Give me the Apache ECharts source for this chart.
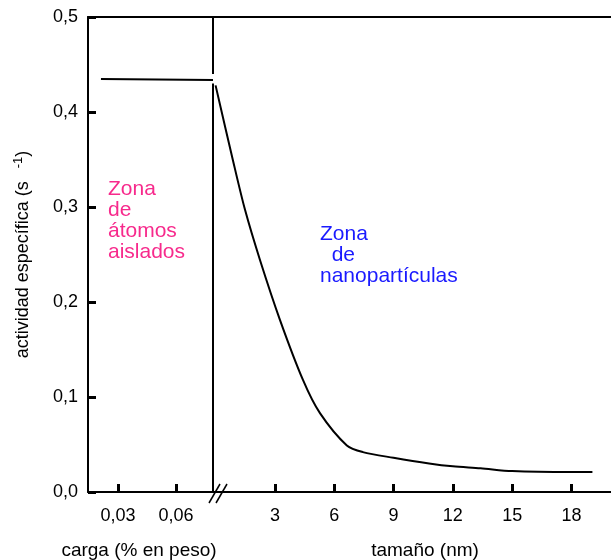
<!DOCTYPE html>
<html>
<head>
<meta charset="utf-8">
<script src="https://cdn.jsdelivr.net/npm/echarts@6/dist/echarts.min.js"></script>
<style>
  html, body { margin: 0; padding: 0; background: #fff; }
  #chart { width: 611px; height: 560px; }
</style>
</head>
<body>
<div id="chart"></div>
<script>
// left part: metal loading (% wt)
var loadX = [0.0212, 0.0791];
var loadY = [0.4347, 0.4337];
var loadTicks = [0.03, 0.06];

// right part: particle size (nm)
var sizeX = [0, 0.88, 1.49, 2.25, 3.26, 4.42, 5.28, 6.64, 7.45, 9.0, 10.8, 12.0, 13.4, 15.0, 18.0, 19.06];
var sizeY = [0.428, 0.349, 0.297, 0.244, 0.181, 0.118, 0.083, 0.049, 0.042, 0.036, 0.030, 0.027, 0.025, 0.022, 0.021, 0.021];
var sizeTicks = [3, 6, 9, 12, 15, 18];

var loadMin = 0.0145, loadMax = 0.0791;
var sizeMin = -0.13, sizeMax = 20;

var font = 'Liberation Sans, Arial, Helvetica, sans-serif';
var black = '#000';

function pairs(xs, ys) {
    var out = [];
    for (var i = 0; i < xs.length; i++) out.push([xs[i], ys[i]]);
    return out;
}
function comma(v, d) {
    return v.toFixed(d).replace('.', ',');
}

var chart = echarts.init(document.getElementById('chart'));

var lineAxis = { show: true, lineStyle: { color: black, width: 2 } };
var tickStyle = { inside: true, length: 8, lineStyle: { color: black, width: 3 } };

var option = {
    animation: false,
    textStyle: { fontFamily: font },
    grid: [
        { left: 88, top: 17, width: 125, height: 475, outerBoundsMode: 'none', containLabel: false },
        { left: 213, top: 17, right: 0, height: 475, outerBoundsMode: 'none', containLabel: false }
    ],
    xAxis: [
        {
            type: 'value', gridIndex: 0, min: loadMin, max: loadMax,
            axisLine: lineAxis,
            axisTick: Object.assign({ customValues: loadTicks }, tickStyle),
            axisLabel: {
                customValues: loadTicks, margin: 15, fontSize: 18, color: black, fontFamily: font,
                formatter: function (v) { return comma(v, 2); }
            },
            splitLine: { show: false },
            name: 'carga (% en peso)', nameLocation: 'middle', nameGap: 49,
            nameTextStyle: { fontSize: 19, color: black, fontFamily: font, padding: [0, 23, 0, 0] }
        },
        {
            type: 'value', gridIndex: 1, min: sizeMin, max: sizeMax,
            axisLine: lineAxis,
            axisTick: Object.assign({ customValues: sizeTicks }, tickStyle),
            axisLabel: {
                customValues: sizeTicks, margin: 15, fontSize: 18, color: black, fontFamily: font
            },
            splitLine: { show: false },
            name: 'tamaño (nm)', nameLocation: 'middle', nameGap: 49,
            nameTextStyle: { fontSize: 19, color: black, fontFamily: font, padding: [0, 0, 0, 26] }
        },
        {
            type: 'value', gridIndex: 0, position: 'top', min: loadMin, max: loadMax,
            axisLine: lineAxis, axisTick: { show: false }, axisLabel: { show: false }, splitLine: { show: false }
        },
        {
            type: 'value', gridIndex: 1, position: 'top', min: sizeMin, max: sizeMax,
            axisLine: lineAxis, axisTick: { show: false }, axisLabel: { show: false }, splitLine: { show: false }
        }
    ],
    yAxis: [
        {
            type: 'value', gridIndex: 0, min: 0, max: 0.5, interval: 0.1,
            axisLine: lineAxis,
            axisTick: tickStyle,
            axisLabel: {
                margin: 10, fontSize: 18, color: black, fontFamily: font,
                formatter: function (v) { return comma(v, 1); }
            },
            splitLine: { show: false },
            name: 'actividad específica (s {sup|-1})', nameLocation: 'middle', nameGap: 54,
            nameTextStyle: {
                fontSize: 18, color: black, fontFamily: font,
                rich: { sup: { fontSize: 13, fontFamily: font, color: black, verticalAlign: 'top', padding: [0, 0, 9, 8] } }
            }
        },
        {
            type: 'value', gridIndex: 1, min: 0, max: 0.5, show: false
        }
    ],
    series: [
        {
            type: 'line', xAxisIndex: 0, yAxisIndex: 0,
            data: pairs(loadX, loadY),
            symbol: 'none', lineStyle: { color: black, width: 2 }
        },
        {
            // broken vertical at the axis break
            type: 'line', xAxisIndex: 0, yAxisIndex: 0, clip: false,
            data: [[loadMax, 0.5], [loadMax, 0.44], [loadMax, '-'], [loadMax, 0.43], [loadMax, 0]],
            symbol: 'none', connectNulls: false, lineStyle: { color: black, width: 2 }
        },
        {
            type: 'line', xAxisIndex: 1, yAxisIndex: 1,
            data: pairs(sizeX, sizeY),
            smooth: 0.3,
            symbol: 'none', lineStyle: { color: black, width: 2 }
        }
    ],
    graphic: [
        { type: 'line', shape: { x1: 209, y1: 503, x2: 220, y2: 484 }, style: { stroke: black, lineWidth: 1.5 } },
        { type: 'line', shape: { x1: 216, y1: 503, x2: 227, y2: 484 }, style: { stroke: black, lineWidth: 1.5 } },
        {
            type: 'text', left: 108, top: 179,
            style: { text: 'Zona\nde\nátomos\naislados', fill: '#f72a8c', font: '21px ' + font, lineHeight: 21 }
        },
        {
            type: 'text', left: 320, top: 224,
            style: { text: 'Zona\n  de\nnanopartículas', fill: '#1a1aff', font: '21px ' + font, lineHeight: 21 }
        }
    ]
};

chart.setOption(option);
</script>
</body>
</html>
